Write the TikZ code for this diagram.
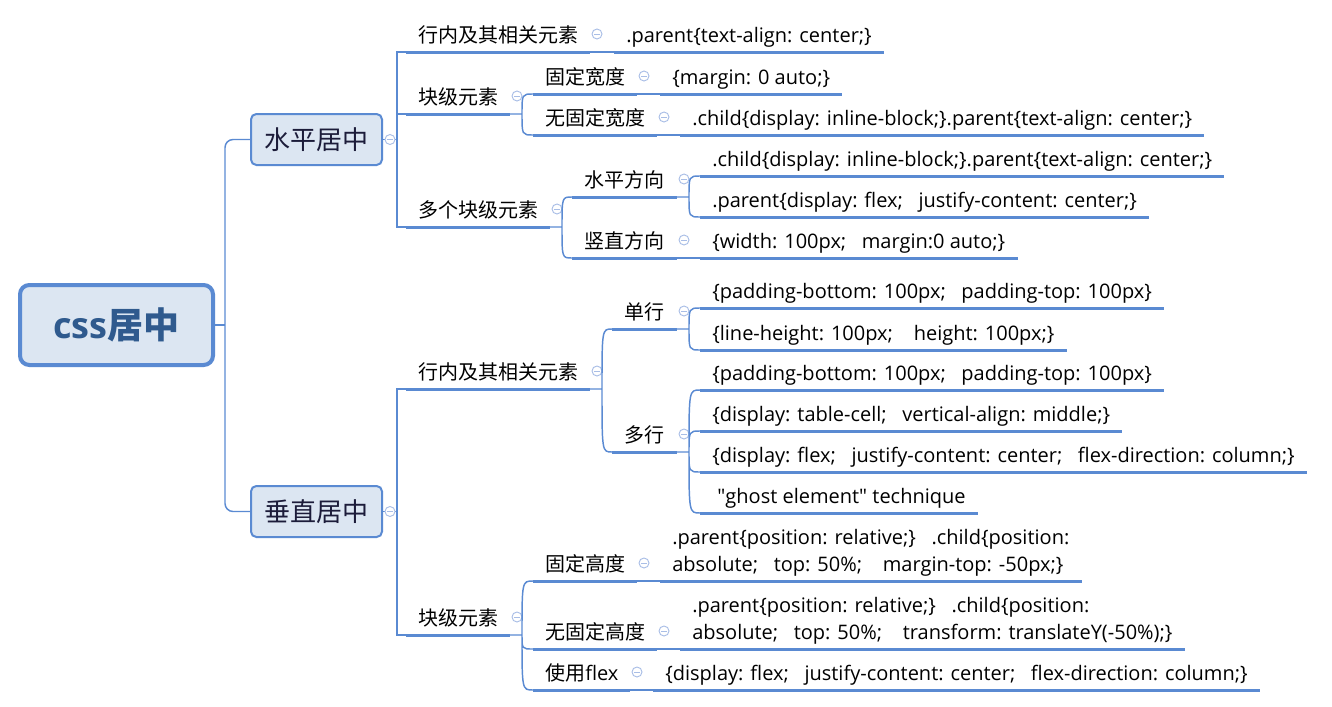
\documentclass[tikz,border=0pt]{standalone}
\usepackage{fontspec}
\setmainfont{Open Sans}
\newfontfamily\cjk{Noto Sans CJK SC}
\definecolor{lineblue}{HTML}{5A8AD2}
\definecolor{boxfill}{HTML}{DCE6F2}
\definecolor{iconblue}{HTML}{A9BEE6}
\definecolor{roottext}{HTML}{2F5A8E}
\definecolor{lvltext}{HTML}{1C1C3A}
\newcommand\icm{\textcolor{iconblue}{\rule{4pt}{0.7pt}}}
\newcommand\topic[5]{%
  \coordinate (#1-l) at (#2,#4);
  \coordinate (#1-r) at (#3,#4);
  \draw[uline] (#1-l) -- (#1-r);
  \node[lbl] (#1) at (#2+12,#4-10) {#5};
  \node[ic] (#1-i) at ([shift={(7,-18)}]#1-r) {\icm};
}
\newcommand\leaf[4]{%
  \coordinate (#1-l) at (#2,#3);
  \node[lbl] (#1) at (#2+12,#3-10) {#4};
  \draw[uline] (#1-l) -- (#1-l -| #1.east) -- ++(12,0);
}
\newcommand\brc[2]{(#1) .. controls (#1 |- #2) .. (#2)}
\begin{document}
\begin{tikzpicture}[x=0.75pt,y=-0.75pt,
  conn/.style={lineblue, line width=1.1pt},
  uline/.style={lineblue, line width=2.25pt},
  lbl/.style={anchor=base west, inner sep=0pt, align=left, font=\fontsize{15}{20.25}\selectfont},
  ic/.style={circle, draw=iconblue, fill=white, line width=0.7pt, minimum size=7.5pt, inner sep=0pt},
  lvl/.style={draw=lineblue, fill=boxfill, line width=1.5pt, rounded corners=4pt, minimum width=98.25pt, minimum height=38.25pt, inner sep=0pt, font=\cjk\fontsize{19.5}{22}\selectfont, text=lvltext},
  rootbox/.style={draw=lineblue, fill=boxfill, line width=3pt, rounded corners=7pt, minimum width=144.75pt, minimum height=60pt, inner sep=0pt, font=\fontsize{27}{30}\selectfont\bfseries, text=roottext}]
\useasboundingbox (0,0) rectangle (1332,707);

\node[rootbox] (root) at (116.5,325) {css{\cjk 居中}};
\node[lvl] (h1) at (316.5,139.5) {水平居中};
\node[lvl] (h2) at (316.5,511.5) {垂直居中};

% level 2/3 topics
\topic{ha}{406}{590}{52}{\cjk 行内及其相关元素}
\topic{hb}{406}{510}{114}{\cjk 块级元素}
\topic{hbA}{533}{637}{94}{\cjk 固定宽度}
\topic{hbB}{533}{657}{135}{\cjk 无固定宽度}
\topic{hc}{406}{550}{227}{\cjk 多个块级元素}
\topic{hcA}{572}{677}{197}{\cjk 水平方向}
\topic{hcB}{572}{677}{258}{\cjk 竖直方向}
\topic{va}{406}{590}{389}{\cjk 行内及其相关元素}
\topic{vaA}{612}{677}{329}{\cjk 单行}
\topic{vaB}{612}{677}{452}{\cjk 多行}
\topic{vb}{406}{510}{635}{\cjk 块级元素}
\topic{vbA}{533}{637}{581}{\cjk 固定高度}
\topic{vbB}{533}{657}{649}{\cjk 无固定高度}
\topic{vbC}{533}{630}{690}{{\cjk 使用}flex}

% leaves
\leaf{L1}{614}{52}{.parent\{text-align: center;\}}
\leaf{L2}{660}{94}{\{margin: 0 auto;\}}
\leaf{L3}{680}{135}{.child\{display: inline-block;\}.parent\{text-align: center;\}}
\leaf{L4}{700}{176}{.child\{display: inline-block;\}.parent\{text-align: center;\}}
\leaf{L5}{700}{217}{.parent\{display: flex;\ \ \ justify-content: center;\}}
\leaf{L6}{700}{258}{\{width: 100px;\ \ \ margin:0 auto;\}}
\leaf{L7}{700}{308}{\{padding-bottom: 100px;\ \ \ padding-top: 100px\}}
\leaf{L8}{700}{350}{\{line-height: 100px;\ \ \ \ height: 100px;\}}
\leaf{L9}{700}{390}{\{padding-bottom: 100px;\ \ \ padding-top: 100px\}}
\leaf{L10}{700}{431}{\{display: table-cell;\ \ \ vertical-align: middle;\}}
\leaf{L11}{700}{472}{\{display: flex;\ \ \ justify-content: center;\ \ \ flex-direction: column;\}}
\leaf{L12}{700}{513}{\ \textquotedbl ghost element\textquotedbl{} technique}
\leaf{L13}{660}{581}{.parent\{position: relative;\}\ \ \ .child\{position:\\absolute;\ \ \ top: 50\%;\ \ \ \ margin-top: -50px;\}}
\leaf{L14}{680}{649}{.parent\{position: relative;\}\ \ \ .child\{position:\\absolute;\ \ \ top: 50\%;\ \ \ \ transform: translateY(-50\%);\}}
\leaf{L15}{653}{690}{\{display: flex;\ \ \ justify-content: center;\ \ \ flex-direction: column;\}}

% root connectors
\coordinate (rj) at (225,325);
\draw[conn, rounded corners=6pt] (h1.west) -| (rj) |- (h2.west);
\draw[conn] (root.east) -- (rj);

% level 1 connectors
\coordinate (j1) at (397,139.5);
\draw[conn] (h1.east) -- (j1) (ha-l) -| (j1) (hb-l) -| (j1) (hc-l) -| (j1);
\coordinate (j2) at (397,511.5);
\draw[conn] (h2.east) -- (j2) (va-l) -| (j2) (vb-l) -| (j2);

% brace connectors
\coordinate (hbj) at (522,114);
\draw[conn] (hb-r) -- (hbj) \brc{hbj}{hbA-l} \brc{hbj}{hbB-l};
\coordinate (hcj) at (562,227);
\draw[conn] (hc-r) -- (hcj) \brc{hcj}{hcA-l} \brc{hcj}{hcB-l};
\coordinate (hcAj) at (689,197);
\draw[conn] (hcA-r) -- (hcAj) \brc{hcAj}{L4-l} \brc{hcAj}{L5-l};
\coordinate (vaj) at (602,389);
\draw[conn] (va-r) -- (vaj) \brc{vaj}{vaA-l} \brc{vaj}{vaB-l};
\coordinate (vaAj) at (689,329);
\draw[conn] (vaA-r) -- (vaAj) \brc{vaAj}{L7-l} \brc{vaAj}{L8-l};
\coordinate (vaBj) at (689,452);
\draw[conn] (vaB-r) -- (vaBj) \brc{vaBj}{L9-l} \brc{vaBj}{L10-l} \brc{vaBj}{L11-l} \brc{vaBj}{L12-l};
\coordinate (vbj) at (522,635);
\draw[conn] (vb-r) -- (vbj) \brc{vbj}{vbA-l} \brc{vbj}{vbB-l} \brc{vbj}{vbC-l};

% straight leaf connectors
\draw[conn] (ha-r) -- (L1-l) (hbA-r) -- (L2-l) (hbB-r) -- (L3-l) (hcB-r) -- (L6-l)
  (vbA-r) -- (L13-l) (vbB-r) -- (L14-l) (vbC-r) -- (L15-l);

% level-1 icons
\node[ic] (h1-i) at ([shift={(7,0)}]h1.east) {\icm};
\node[ic] (h2-i) at ([shift={(7,0)}]h2.east) {\icm};
\end{tikzpicture}
\end{document}
